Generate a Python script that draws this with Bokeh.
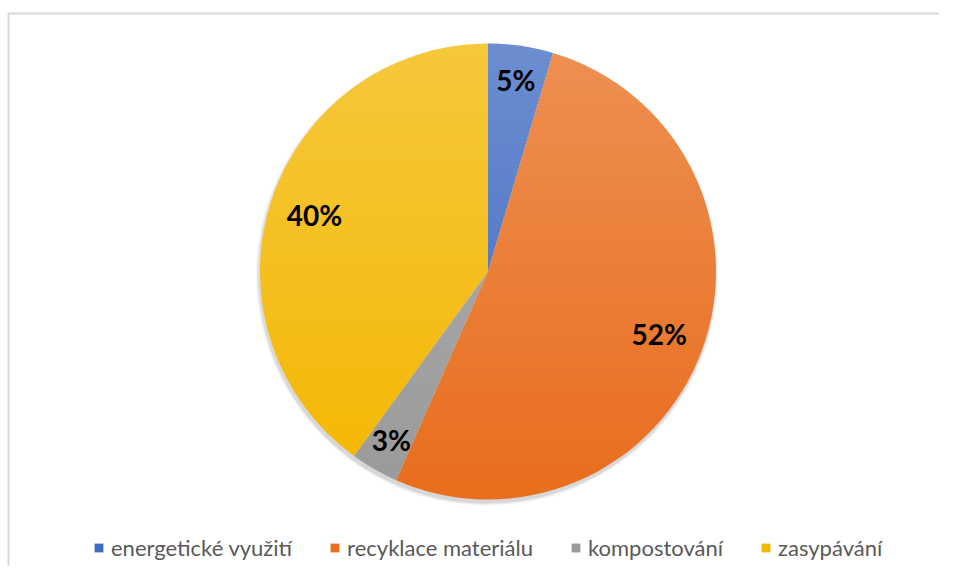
import math
from bokeh.plotting import figure
from bokeh.models import Range1d, Legend, LegendItem, ColumnDataSource
from bokeh.core.properties import value
from bokeh.embed import file_html
from bokeh.resources import INLINE

# ---- data ----
categories = ["energetické využití", "recyklace materiálu", "kompostování", "zasypávání"]
shares = [4.6, 52.0, 3.4, 40.0]
colors = ["#3F6BC2", "#E96E1E", "#9A9A9A", "#F4B700"]

# ---- layout constants ----
W, H = 939, 566
cx, cy, r = 487.5, 295.0, 228.0

p = figure(width=W, height=H, x_range=Range1d(0, W), y_range=Range1d(0, H),
           output_backend="svg", toolbar_location=None, min_border=0)
p.axis.visible = False
p.grid.visible = False
p.outline_line_color = None
p.background_fill_color = "white"
p.border_fill_color = "white"

# chart border (top and left visible in the crop)
p.line(x=[8, 8, W], y=[0, H - 13, H - 13], line_color="#d9d9d9", line_width=2)

# soft shadow
for k, a in [(3, 0.04), (2, 0.05), (1, 0.07)]:
    p.circle(x=[cx - 1], y=[cy - 3], radius=r + k, fill_color="black",
             fill_alpha=a, line_color=None)

# wedges, starting at 12 o'clock, clockwise
total = sum(shares)
starts, ends, mids = [], [], []
cum = 0.0
for s in shares:
    a0 = math.pi / 2 - 2 * math.pi * (cum + s) / total
    a1 = math.pi / 2 - 2 * math.pi * cum / total
    starts.append(a0)
    ends.append(a1)
    mids.append((a0 + a1) / 2)
    cum += s

src = ColumnDataSource(dict(cat=categories, start=starts, end=ends, color=colors))
wr = p.wedge(x=cx, y=cy, radius=r, start_angle="start", end_angle="end",
             fill_color="color", line_color=None, source=src)

# vertical gradient: white veil fading from top to bottom
step = 4
n = int(2 * r / step)
ys, alphas = [], []
for i in range(n):
    y0 = cy - r + i * step
    ys.append(y0 + step / 2)
    alphas.append(0.24 * (i + 0.5) / n)
p.rect(x=[cx] * n, y=ys, width=2 * r + 4, height=step, fill_color="white",
       fill_alpha=alphas, line_color=None)

# data labels
lx, ly, lt = [], [], []
for s, m in zip(shares, mids):
    f = 0.85 if s < 10 else 0.8
    lx.append(cx + f * r * math.cos(m))
    ly.append(cy + f * r * math.sin(m))
    lt.append(f"{round(s)}%")
p.text(x=lx, y=ly, text=lt, text_align="center", text_baseline="middle",
       text_font=value("Lato"), text_font_style="bold", text_font_size="28px",
       text_color="#000000")

# legend
items = [LegendItem(label=c, renderers=[wr], index=i) for i, c in enumerate(categories)]
legend = Legend(items=items, orientation="horizontal", location=(93, 5),
                glyph_width=11, glyph_height=11, label_standoff=7, spacing=37,
                label_text_font="Lato", label_text_font_size="22px",
                label_text_color="#595959", border_line_color=None,
                background_fill_alpha=0, padding=0, margin=0)
p.add_layout(legend)

open("out.html", "w").write(file_html(p, INLINE))
